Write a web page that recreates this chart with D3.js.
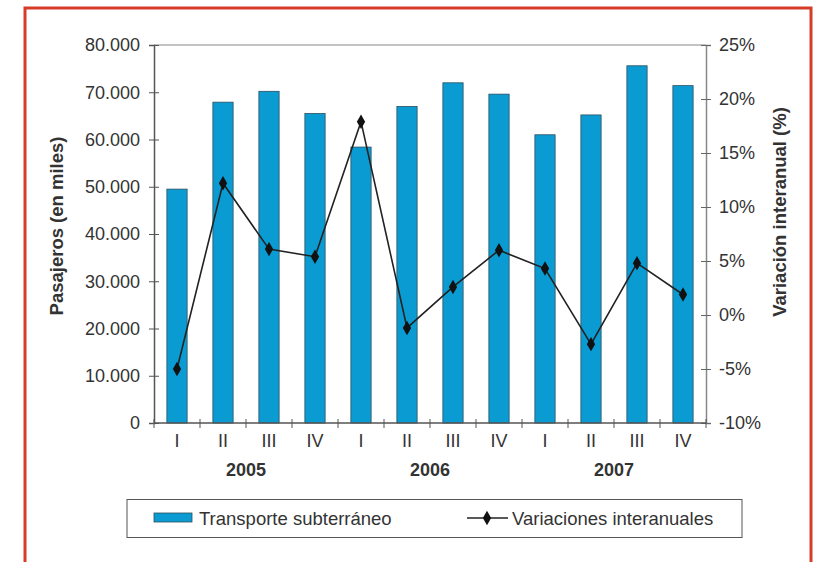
<!DOCTYPE html>
<html><head><meta charset="utf-8">
<script src="https://cdn.jsdelivr.net/npm/d3@7"></script>
<style>
body{margin:0;background:#fff;}
text{font-family:"Liberation Sans",Arial,sans-serif;fill:#333;}
</style></head>
<body><svg id="c" width="817" height="562"></svg>
<script>
const quarters = ["I","II","III","IV","I","II","III","IV","I","II","III","IV"];
const years = ["2005","2006","2007"];
const passengers = [49500,67900,70200,65500,58400,67000,72000,69600,61000,65200,75600,71400];
const variation = [-5.0,12.2,6.1,5.4,17.9,-1.2,2.6,6.0,4.3,-2.7,4.8,1.9];
const leftTicks = [0,10000,20000,30000,40000,50000,60000,70000,80000];
const rightTicks = [-10,-5,0,5,10,15,20,25];
const seriesNames = ["Transporte subterráneo","Variaciones interanuales"];
const axisTitles = ["Pasajeros (en miles)","Variación interanual (%)"];

const svg = d3.select("#c");
const L = 154, R = 706, T = 45, B = 423;
const fs = 18, fsT = 18.5, fsLeg = 18.5;
const loc = d3.formatLocale({decimal:",",thousands:".",grouping:[3],currency:["",""],minus:"-"});
const fmtL = loc.format(",d");

// red frame
svg.append("rect").attr("x",25).attr("y",8).attr("width",786).attr("height",600)
  .attr("fill","none").attr("stroke","#d63c26").attr("stroke-width",3);

const idx = d3.range(quarters.length);
const x = d3.scaleBand().domain(idx).range([L,R]).padding(0);
const yL = d3.scaleLinear().domain([0,80000]).range([B,T]);
const yR = d3.scaleLinear().domain([-10,25]).range([B,T]);

// plot frame top line
svg.append("line").attr("x1",L).attr("x2",R).attr("y1",T).attr("y2",T).attr("stroke","#888").attr("stroke-width",1.2);

// bars
const bw = x.bandwidth()*0.44;
svg.append("g").selectAll("rect").data(passengers).join("rect")
  .attr("x",(d,i)=>x(i)+(x.bandwidth()-bw)/2)
  .attr("y",d=>yL(d)).attr("width",bw).attr("height",d=>B-yL(d))
  .attr("fill","#0b9bd3").attr("stroke","#2d4f5e").attr("stroke-width",0.8);

// left axis
const gL = svg.append("g").attr("transform",`translate(${L},0)`)
  .call(d3.axisLeft(yL).tickValues(leftTicks).tickFormat(d=>d===0?"0":fmtL(d)).tickSize(5).tickPadding(9));
gL.select(".domain").attr("stroke","#555").attr("stroke-width",1.5);
gL.selectAll(".tick line").attr("x1",-5).attr("x2",5).attr("stroke","#555");
gL.selectAll(".tick text").attr("font-size",fs).attr("fill","#333").attr("font-family","Liberation Sans, Arial");

// right axis
const gR = svg.append("g").attr("transform",`translate(${R},0)`)
  .call(d3.axisRight(yR).tickValues(rightTicks).tickFormat(d=>loc.format("d")(d)+"%").tickSize(5).tickPadding(8));
gR.select(".domain").attr("stroke","#888").attr("stroke-width",1.5);
gR.selectAll(".tick line").attr("x1",-5).attr("x2",5).attr("stroke","#666");
gR.selectAll(".tick text").attr("font-size",fs).attr("fill","#333").attr("font-family","Liberation Sans, Arial");

// x axis
svg.append("line").attr("x1",L).attr("x2",R).attr("y1",B).attr("y2",B).attr("stroke","#555").attr("stroke-width",1.5);
const bounds = d3.range(quarters.length+1).map(i=> i<quarters.length ? x(i) : x(i-1)+x.bandwidth());
svg.append("g").selectAll("line").data(bounds).join("line")
  .attr("x1",d=>d).attr("x2",d=>d).attr("y1",B-4).attr("y2",B+5).attr("stroke","#555").attr("stroke-width",1);
svg.append("g").selectAll("text").data(quarters).join("text")
  .attr("x",(d,i)=>x(i)+x.bandwidth()/2).attr("y",B+24).attr("text-anchor","middle")
  .attr("font-size",fs).text(d=>d);
svg.append("g").selectAll("text").data(years).join("text")
  .attr("x",(d,i)=>x(i*4)+x.bandwidth()*2).attr("y",B+53).attr("text-anchor","middle")
  .attr("font-size",fs).attr("font-weight","bold").text(d=>d);

// line
const line = d3.line().x((d,i)=>x(i)+x.bandwidth()/2).y(d=>yR(d));
svg.append("path").datum(variation).attr("d",line).attr("fill","none").attr("stroke","#222").attr("stroke-width",1.6);
const diamond = d3.symbol().type(d3.symbolDiamond).size(60);
svg.append("g").selectAll("path").data(variation).join("path")
  .attr("transform",(d,i)=>`translate(${x(i)+x.bandwidth()/2},${yR(d)})`)
  .attr("d",diamond).attr("fill","#111");

// axis titles
svg.append("text").attr("transform","translate(63,226) rotate(-90)").attr("text-anchor","middle")
  .attr("font-size",fsT).attr("font-weight","bold").text(axisTitles[0]);
svg.append("text").attr("transform","translate(786,212) rotate(-90)").attr("text-anchor","middle")
  .attr("font-size",fsT).attr("font-weight","bold").text(axisTitles[1]);

// legend
const lg = svg.append("g");
lg.append("rect").attr("x",127).attr("y",499.5).attr("width",615).attr("height",38)
  .attr("fill","#fff").attr("stroke","#555").attr("stroke-width",1);
lg.append("rect").attr("x",154).attr("y",513).attr("width",38).attr("height",9)
  .attr("fill","#0b9bd3").attr("stroke","#2d4f5e").attr("stroke-width",0.8);
lg.append("text").attr("x",199).attr("y",525).attr("font-size",fsLeg).text(seriesNames[0]);
lg.append("line").attr("x1",467).attr("x2",508).attr("y1",518).attr("y2",518).attr("stroke","#222").attr("stroke-width",1.6);
lg.append("path").attr("transform","translate(487,518)").attr("d",diamond).attr("fill","#111");
lg.append("text").attr("x",512).attr("y",525).attr("font-size",fsLeg).text(seriesNames[1]);
</script></body></html>
